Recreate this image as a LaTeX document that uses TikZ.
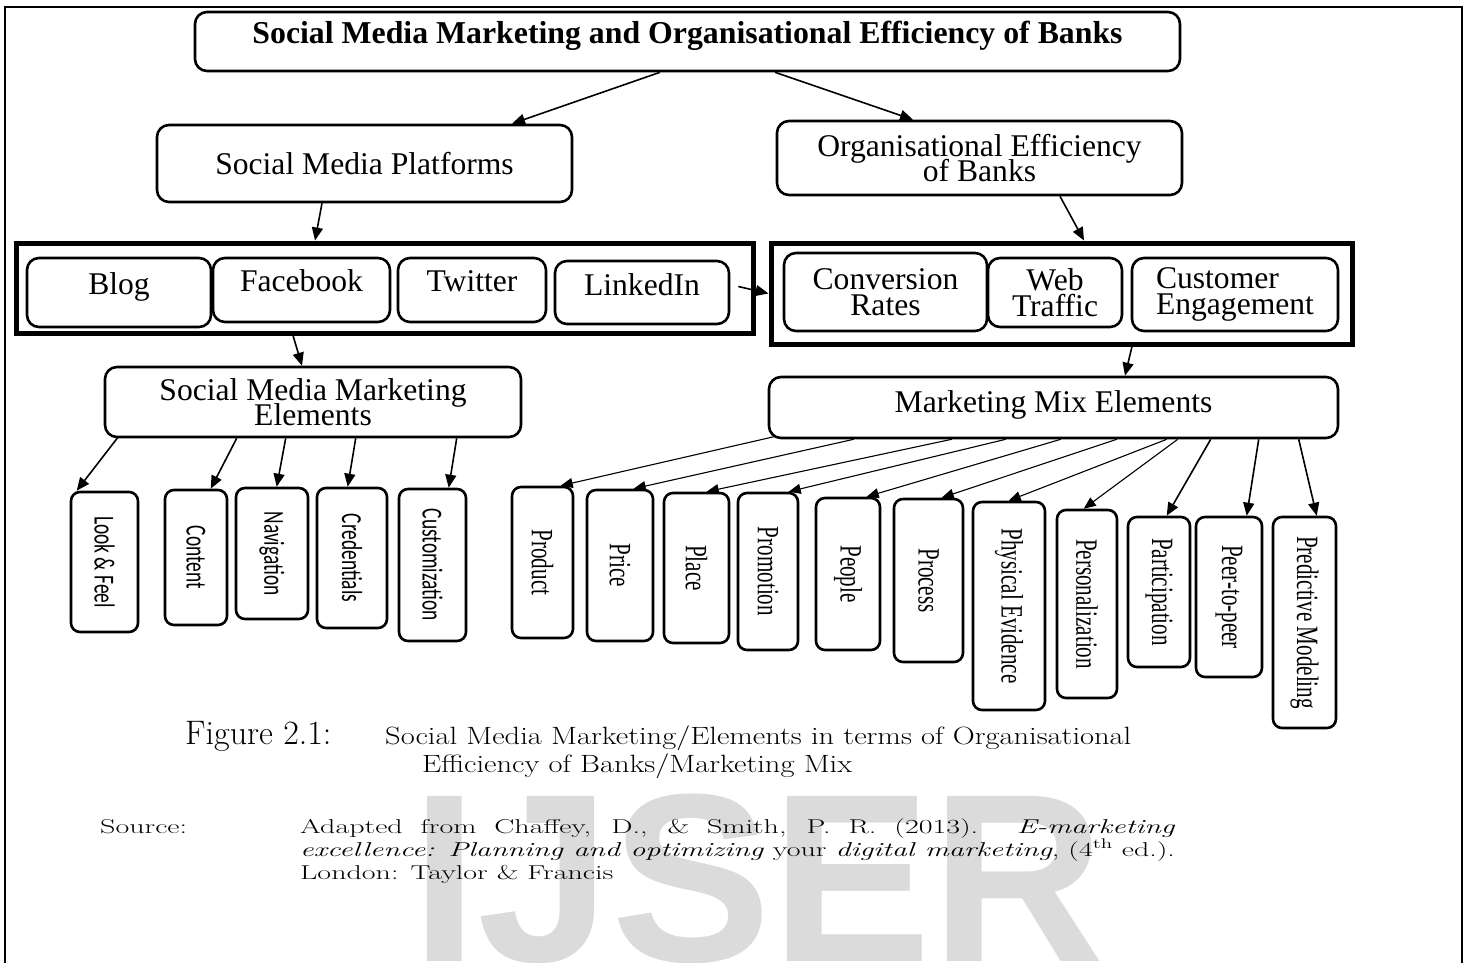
\documentclass[tikz,border=0pt]{standalone}
\usepackage{fontspec}
\newfontfamily\boxfont{Liberation Serif}
\newfontfamily\tagfont{Carlito}
\newfontfamily\markfont{Liberation Sans}
\newfontfamily\capfont[FakeStretch=1.22]{Latin Modern Roman}
\newfontfamily\srcfont[FakeStretch=1.5]{Latin Modern Roman}
\usetikzlibrary{arrows.meta,calc,positioning}
\setlength{\lineskiplimit}{-50pt}

\tikzset{
  box/.style={draw, line width=2.6pt, rounded corners=12pt, align=center, inner sep=2pt,
    font=\boxfont\fontsize{31.6}{25.5}\selectfont},
  group/.style={draw, line width=5pt, inner sep=0pt},
  tagbox/.style={draw, line width=2.6pt, rounded corners=9pt, inner sep=0pt,
    font=\tagfont\fontsize{29}{29}\selectfont},
  mixbox/.style={draw, line width=2.6pt, rounded corners=9pt, inner sep=0pt,
    font=\boxfont\fontsize{31}{31}\selectfont},
  link/.style={-{Triangle[length=13pt,width=11pt]}, line width=1.6pt},
  thinlink/.style={-{Triangle[length=12pt,width=10pt]}, line width=1.1pt},
  capt/.style={inner sep=0pt, anchor=base west}
}

\newcommand{\vtag}[2]{\rotatebox{-90}{\scalebox{#1}[1]{#2}}}

\begin{document}
\begin{tikzpicture}[x=1pt,y=-1pt]
\useasboundingbox (0,0) rectangle (1467,963);
\fill[white] (0,0) rectangle (1467,963);
\node[capt, text=black!14, font=\markfont\bfseries\fontsize{240}{240}\selectfont] (mark) at (411,961) {IJSER};
\draw[line width=1.6pt] (5,963) -- (5,7) -- (1462,7) -- (1462,963);

% top levels
\node[box, minimum width=985pt, minimum height=59pt, text height=22pt, text depth=18pt,
  font=\boxfont\bfseries\fontsize{31.8}{25}\selectfont] (title) at (687.5,41.5)
  {Social Media Marketing and Organisational Efficiency of Banks};
\node[box, minimum width=415pt, minimum height=77pt] (smp) at (364.5,163.5) {Social Media Platforms};
\node[box, minimum width=405pt, minimum height=74pt] (oeb) at (979.5,158) {Organisational Efficiency\\of Banks};

% platforms
\node[group, minimum width=737pt, minimum height=90pt] (lgroup) at (384.5,288) {};
\node[box, minimum width=184pt, minimum height=69pt, text height=22pt, text depth=19pt] (blog) at (119,292.5) {Blog};
\node[box, minimum width=177pt, minimum height=64pt, text height=22pt, text depth=19pt] (facebook) at (301.5,290) {Facebook};
\node[box, minimum width=148pt, minimum height=64pt, text height=22pt, text depth=19pt] (twitter) at (472,290) {Twitter};
\node[box, minimum width=174pt, minimum height=63pt, text height=22pt, text depth=17pt] (linkedin) at (642,292.5) {LinkedIn};

% efficiency measures
\node[group, minimum width=581pt, minimum height=101pt] (rgroup) at (1061.5,293.5) {};
\node[box, minimum width=203pt, minimum height=78pt] (conv) at (885.5,292) {Conversion\\Rates};
\node[box, minimum width=134pt, minimum height=69pt] (web) at (1055,292.5) {Web\\Traffic};
\node[box, minimum width=206pt, minimum height=73pt, align=left] (cust) at (1235,294.5) {Customer\\Engagement};

\node[box, minimum width=416pt, minimum height=70pt] (smme) at (313,402) {Social Media Marketing\\Elements};
\node[box, minimum width=569pt, minimum height=61pt, text height=22pt, text depth=12pt] (mme) at (1053.5,407.5) {Marketing Mix Elements};

% social media marketing elements
\node[tagbox, minimum width=67pt, minimum height=140pt] (look) at (104.5,562) {\vtag{0.67}{Look \& Feel}};
\node[tagbox, minimum width=62pt, minimum height=135pt] (content) at (196,557.5) {\raisebox{6pt}{\vtag{0.67}{Content}}};
\node[tagbox, minimum width=72pt, minimum height=131pt] (navig) at (272,553.5) {\vtag{0.67}{Navigation}};
\node[tagbox, minimum width=70pt, minimum height=140pt] (cred) at (352,558) {\vtag{0.67}{Credentials}};
\node[tagbox, minimum width=67pt, minimum height=152pt] (custom) at (432.5,565) {\vtag{0.67}{Customization}};

% marketing mix elements
\node[mixbox, minimum width=61pt, minimum height=151pt] (product) at (542.5,562.5) {\vtag{0.68}{Product}};
\node[mixbox, minimum width=66pt, minimum height=151pt] (price) at (620,565.5) {\vtag{0.68}{Price}};
\node[mixbox, minimum width=65pt, minimum height=150pt] (place) at (696.5,568) {\vtag{0.68}{Place}};
\node[mixbox, minimum width=60pt, minimum height=157pt] (promo) at (768,571.5) {\vtag{0.68}{Promotion}};
\node[mixbox, minimum width=64pt, minimum height=152pt] (people) at (848,574) {\vtag{0.68}{People}};
\node[mixbox, minimum width=69pt, minimum height=163pt] (process) at (928.5,580.5) {\vtag{0.68}{Process}};
\node[mixbox, minimum width=72pt, minimum height=208pt] (physical) at (1009,606) {\vtag{0.68}{Physical Evidence}};
\node[mixbox, minimum width=60pt, minimum height=188pt] (personal) at (1087,604) {\vtag{0.68}{Personalization}};
\node[mixbox, minimum width=62pt, minimum height=150pt] (particip) at (1159,592) {\vtag{0.68}{Participation}};
\node[mixbox, minimum width=66pt, minimum height=160pt] (peer) at (1229,597) {\vtag{0.68}{Peer-to-peer}};
\node[mixbox, minimum width=63pt, minimum height=211pt] (predict) at (1304.5,622.5) {\vtag{0.68}{Predictive Modeling}};

% arrows
\draw[link] ($(title.south)+(-27.5,0)$) -- ($(smp.north)+(147.5,0)$);
\draw[link] ($(title.south)+(87.5,0)$) -- ($(oeb.north)+(-66.5,0)$);
\draw[link] ($(smp.south)+(-42.5,0)$) -- ($(lgroup.north)+(-69.5,0)$);
\draw[link] ($(oeb.south)+(80.5,0)$) -- ($(rgroup.north)+(22.5,0)$);
\draw[link] ($(linkedin.east)+(8,-6)$) -- (rgroup.west);
\draw[link] ($(lgroup.south)+(-91.5,0)$) -- ($(smme.north)+(-11,0)$);
\draw[link] ($(rgroup.south)+(70.5,0)$) -- ($(mme.north)+(71.5,0)$);

\draw[link] ($(smme.south west)+(15,-2)$) -- ($(look.north west)+(7,0)$);
\draw[link] ($(smme.south west)+(133,0)$) -- ($(content.north west)+(47,0)$);
\draw[link] ($(smme.south west)+(182,0)$) -- ($(navig.north west)+(42,0)$);
\draw[link] ($(smme.south west)+(252,0)$) -- ($(cred.north west)+(32,0)$);
\draw[link] ($(smme.south west)+(353,0)$) -- ($(custom.north west)+(51,0)$);

\draw[thinlink] ($(mme.south west)+(8,-3)$) -- ($(product.north west)+(50,0)$);
\draw[thinlink] ($(mme.south west)+(86,0)$) -- ($(price.north west)+(48,0)$);
\draw[thinlink] ($(mme.south west)+(184,0)$) -- ($(place.north west)+(44,0)$);
\draw[thinlink] ($(mme.south west)+(238,0)$) -- ($(promo.north west)+(52,0)$);
\draw[thinlink] ($(mme.south west)+(293,0)$) -- ($(people.north west)+(52,0)$);
\draw[thinlink] ($(mme.south west)+(349,0)$) -- ($(process.north west)+(49,0)$);
\draw[thinlink] ($(mme.south west)+(399,0)$) -- ($(physical.north west)+(37,0)$);
\draw[thinlink] ($(mme.south west)+(410,0)$) -- ($(personal.north west)+(28,0)$);
\draw[link] ($(mme.south west)+(443,0)$) -- ($(particip.north west)+(40,0)$);
\draw[link] ($(mme.south west)+(491,0)$) -- ($(peer.north west)+(52,0)$);
\draw[link] ($(mme.south west)+(531,0)$) -- ($(predict.north west)+(45,0)$);

% caption and source
\node[capt, font=\fontsize{34}{34}\selectfont] (fig) at (185,744) {Figure 2.1:};
\node[capt, font=\capfont\fontsize{25}{25}\selectfont] (cap1) at (385,744) {Social Media Marketing/Elements in terms of Organisational};
\node[capt, font=\capfont\fontsize{25}{25}\selectfont] (cap2) at (422,772) {Efficiency of Banks/Marketing Mix};
\node[capt, font=\srcfont\fontsize{20}{20}\selectfont] (srclabel) at (100,833) {Source:};
\node[capt, font=\srcfont\fontsize{20}{20}\selectfont] (src1) at (300,833)
  {\makebox[875pt][s]{Adapted from Chaffey, D., \& Smith, P. R. (2013). \textit{E-marketing}}};
\node[capt, font=\srcfont\fontsize{20}{20}\selectfont] (src2) at (300,856)
  {\textit{excellence: Planning and optimizing} your \textit{digital marketing}, (4\textsuperscript{th} ed.).};
\node[capt, font=\srcfont\fontsize{20}{20}\selectfont] (src3) at (300,879) {London: Taylor \& Francis};
\end{tikzpicture}
\end{document}
